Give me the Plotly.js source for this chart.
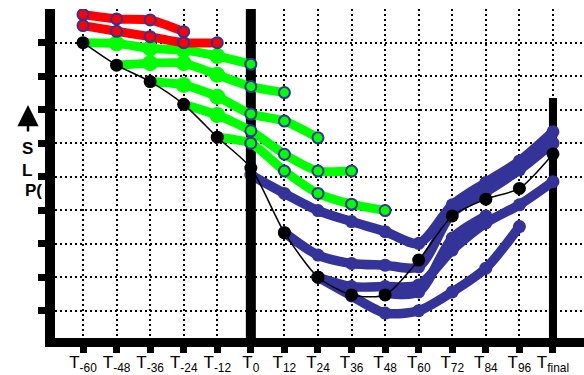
<!DOCTYPE html>
<html><head><meta charset="utf-8">
<script src="https://cdn.plot.ly/plotly-3.0.1.min.js"></script>
<style>html,body{margin:0;padding:0;background:#fff;overflow:hidden}</style>
</head><body><div id="chart" style="width:584px;height:375px"></div>
<script>
const tickLabels = ['T<sub>-60</sub>','T<sub>-48</sub>','T<sub>-36</sub>','T<sub>-24</sub>','T<sub>-12</sub>','T<sub>0</sub>','T<sub>12</sub>','T<sub>24</sub>','T<sub>36</sub>','T<sub>48</sub>','T<sub>60</sub>','T<sub>72</sub>','T<sub>84</sub>','T<sub>96</sub>','T<sub>final</sub>'];
const _ = null;
const gridLevels = [0,1,2,3,4,5,6,7,8];
// black reference track
const blackSeries = [8.00,7.33,6.84,6.16,5.18,4.26,2.33,1.00,0.47,0.47,1.51,2.83,3.33,3.65,4.68];
// red tracks
const red1 = [8.84,8.71,8.68,8.33,_,_,_,_,_,_,_,_,_,_,_];
const red2 = [8.51,8.34,8.18,8.00,8.00,_,_,_,_,_,_,_,_,_,_];
// green tracks
const green1 = [8.00,7.98,7.83,7.78,7.60,7.36,_,_,_,_,_,_,_,_,_];
const green2 = [_,7.33,7.39,7.39,7.04,6.69,6.51,_,_,_,_,_,_,_,_];
const green3 = [_,_,6.84,6.74,6.39,5.87,5.66,5.16,_,_,_,_,_,_,_];
const green4 = [_,_,_,6.16,5.84,5.37,4.67,4.17,4.17,_,_,_,_,_,_];
const green5 = [_,_,_,_,5.18,5.00,4.17,3.50,3.18,2.99,_,_,_,_,_];
// blue tracks
const blue1 = [_,_,_,_,_,4.05,3.50,2.99,2.66,2.36,2.01,3.16,3.83,4.47,5.34];
const blue2 = [_,_,_,_,_,_,2.33,1.66,1.41,1.36,1.31,2.92,3.54,4.20,5.00];
const blue3 = [_,_,_,_,_,_,_,1.00,0.72,0.72,0.77,1.81,2.62,3.16,3.85];
const blue4 = [_,_,_,_,_,_,_,1.00,0.44,-0.07,0.00,0.56,1.27,2.51,_];
const blue5 = [_,_,_,_,_,_,_,_,_,0.53,0.56,2.17,2.83,_,_];

const xIdx = tickLabels.map((t,i)=>i);
const T0 = tickLabels.indexOf('T<sub>0</sub>');
const TF = tickLabels.length-1;
const XR = [-0.834, 14.924], YR = [-0.815, 9.006];
const BLUE = '#333399', GREEN = '#00ff00', RED = '#ff0000';

const traces = [];
[blue1,blue2,blue3,blue4,blue5].forEach(s=>{
  traces.push({x:xIdx,y:s,mode:'lines+markers',line:{color:BLUE,width:9.5,shape:'spline',smoothing:0.8},
    marker:{color:BLUE,size:13},hoverinfo:'skip',showlegend:false});
});
// T0 divider bar
traces.push({x:[T0,T0],y:YR,mode:'lines',line:{color:'#000',width:10},hoverinfo:'skip',showlegend:false});
[green1,green2,green3,green4,green5].forEach(s=>{
  const first = s.findIndex(v=>v!==null);
  traces.push({x:xIdx,y:s,mode:'lines',line:{color:GREEN,width:9,shape:'spline',smoothing:0.6},
    hoverinfo:'skip',showlegend:false});
  // junction blobs before T0
  traces.push({x:xIdx,y:s.map((v,i)=> (i>first && i<T0) ? v : null),mode:'markers',
    marker:{color:GREEN,size:16,line:{width:0}},hoverinfo:'skip',showlegend:false});
  // outlined markers from T0 on
  traces.push({x:xIdx,y:s.map((v,i)=> i>=T0 ? v : null),mode:'markers',
    marker:{color:GREEN,size:11,line:{color:BLUE,width:2}},hoverinfo:'skip',showlegend:false});
});
[red1,red2].forEach(s=>{
  traces.push({x:xIdx,y:s,mode:'lines+markers',line:{color:RED,width:9,shape:'spline',smoothing:0.6},
    marker:{color:RED,size:11,line:{color:BLUE,width:2}},hoverinfo:'skip',showlegend:false});
});
traces.push({x:xIdx,y:blackSeries,mode:'lines+markers',line:{color:'#000',width:1.5,shape:'spline',smoothing:0.7},
  marker:{color:'#000',size:13},hoverinfo:'skip',showlegend:false});

const W=584,H=375,ml=55,mr=0,mt=9,mb=37;
const pw=W-ml-mr, ph=H-mt-mb;
const pxX = p => (p-ml)/pw;
const pxY = p => (H-mb-p)/ph;
const FONT = 'Liberation Sans, Arial, sans-serif';

const layout = {
  width:W,height:H,margin:{l:ml,r:mr,t:mt,b:mb,pad:0},
  paper_bgcolor:'#fff',plot_bgcolor:'#fff',showlegend:false,
  xaxis:{range:XR,tickvals:xIdx,ticktext:tickLabels,ticks:'outside',ticklen:14,tickwidth:7,tickcolor:'#000',
    ticklabelstandoff:-5,
    showgrid:true,gridcolor:'#000',gridwidth:2,griddash:'2px,3px',zeroline:false,showline:false,
    tickfont:{family:FONT,size:17,color:'#000'},fixedrange:true},
  yaxis:{range:YR,tickvals:gridLevels,ticks:'outside',ticklen:16,tickwidth:7,tickcolor:'#000',showticklabels:false,
    showgrid:true,gridcolor:'#000',gridwidth:2,griddash:'2px,3px',zeroline:false,showline:false,fixedrange:true},
  shapes:[
    {type:'rect',xref:'paper',yref:'paper',x0:pxX(45),x1:0,y0:pxY(347),y1:1,fillcolor:'#000',line:{width:0},layer:'above'},
    {type:'rect',xref:'paper',yref:'paper',x0:pxX(45),x1:1,y0:pxY(347),y1:0,fillcolor:'#000',line:{width:0},layer:'above'},
    {type:'rect',xref:'x',yref:'paper',x0:TF-0.12,x1:TF+0.12,y0:0,y1:pxY(98),fillcolor:'#000',line:{width:0},layer:'between'}
  ],
  annotations:[
    {xref:'paper',yref:'paper',x:pxX(28),y:pxY(105),ax:0,ay:28,showarrow:true,arrowhead:2,arrowwidth:2.5,arrowsize:1.7,arrowcolor:'#000',text:''},
    {xref:'paper',yref:'paper',x:pxX(20),y:pxY(149),text:'S',showarrow:false,font:{family:FONT,size:17,color:'#000',weight:'bold'}},
    {xref:'paper',yref:'paper',x:pxX(20),y:pxY(170),text:'L',showarrow:false,font:{family:FONT,size:17,color:'#000',weight:'bold'}},
    {xref:'paper',yref:'paper',x:pxX(23),y:pxY(190),text:'P(',showarrow:false,font:{family:FONT,size:17,color:'#000',weight:'bold'}}
  ]
};
Plotly.newPlot('chart',traces,layout,{staticPlot:true,displayModeBar:false});
</script></body></html>
